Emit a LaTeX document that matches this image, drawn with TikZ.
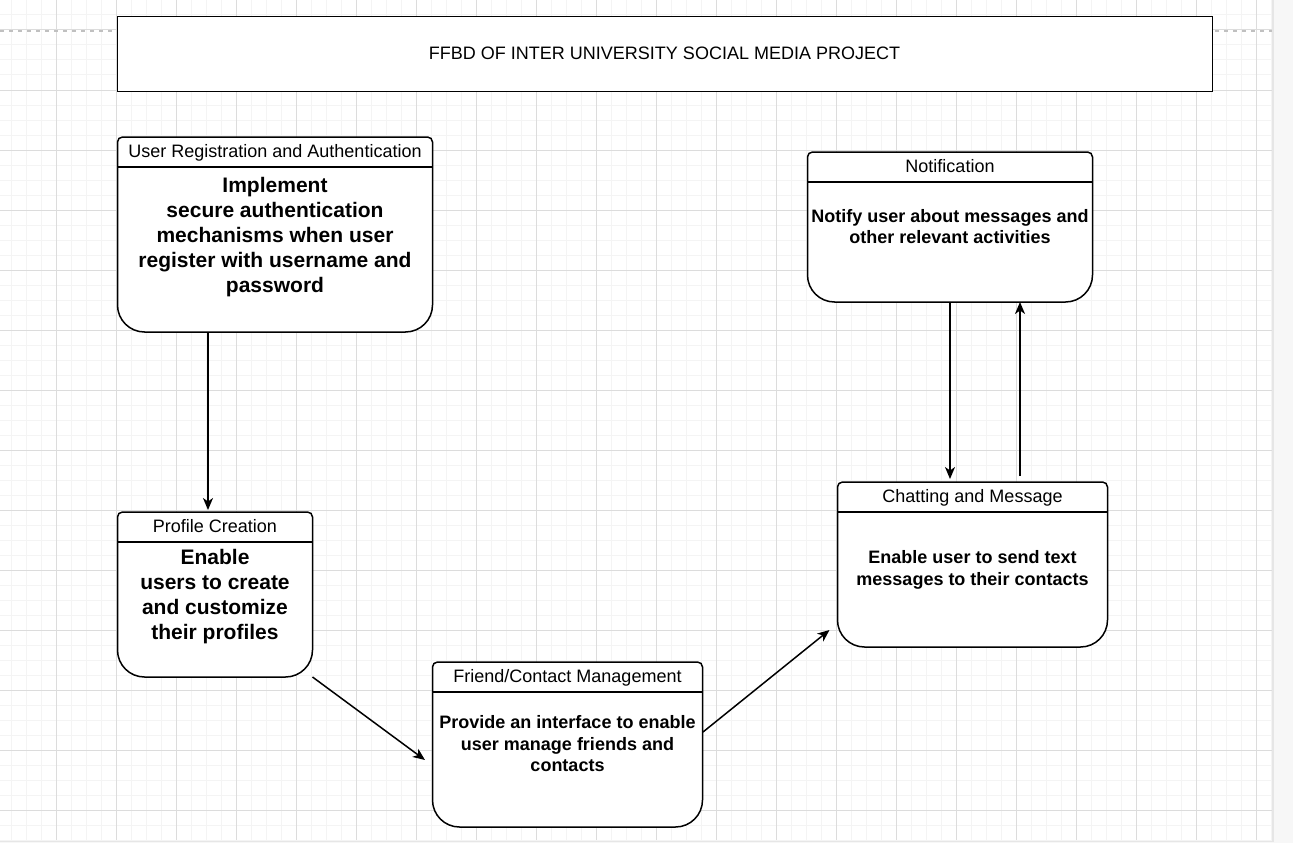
\documentclass[tikz,border=0pt]{standalone}
\usepackage{fontspec}
\setmainfont{Liberation Sans}
\usetikzlibrary{arrows.meta,calc}
\definecolor{minorgrid}{HTML}{F4F4F4}
\definecolor{majorgrid}{HTML}{DCDCDC}
\definecolor{pagebreak}{HTML}{C0C0C0}
\definecolor{outside}{HTML}{F7F7F7}
\definecolor{outsideedge}{HTML}{E6E6E6}
\newcommand\ffbdbox[1]{%
  \filldraw[boxline,rounded corners=5pt] (#1.west) -- (#1.north west) -- (#1.north east) -- (#1.east)
     [rounded corners=27pt] -- (#1.south east) -- (#1.south west) -- cycle;
  \draw[boxline] ($(#1.north west)+(0,30)$) -- ($(#1.north east)+(0,30)$);
}
\begin{document}
\begin{tikzpicture}[x=1pt,y=-1pt,
  minorline/.style={draw=minorgrid,line width=1pt},
  majorline/.style={draw=majorgrid,line width=1pt},
  boxline/.style={draw=black,line width=1.5pt,fill=white},
  fbox/.style={rectangle,inner sep=0pt,outer sep=0pt},
  headtext/.style={anchor=base,inner sep=0pt,font=\fontsize{18}{21.6}\selectfont},
  bigbody/.style={align=center,inner sep=0pt,font=\bfseries\fontsize{21}{25}\selectfont},
  smallbody/.style={align=center,inner sep=0pt,font=\bfseries\fontsize{18}{21.6}\selectfont},
  conn/.style={draw=black,line width=1.5pt,-{Stealth[length=12pt,width=10pt,inset=3.5pt]}}]
\useasboundingbox (0,0) rectangle (1293,843);
\fill[outside] (0,0) rectangle (1293,843);
\fill[white] (0,0) rectangle (1272,840);
\draw[outsideedge,line width=1.5pt] (1273,0) -- (1273,841) -- (0,841);
% grid
\foreach \i in {0,...,84} \draw[minorline] ({11.7+15*\i},0) -- ({11.7+15*\i},840);
\foreach \j in {0,...,56} \draw[minorline] (0,{15*\j}) -- (1272,{15*\j});
\foreach \i in {0,...,20} \draw[majorline] ({56.7+60*\i},0) -- ({56.7+60*\i},840);
\foreach \j in {0,...,13} \draw[majorline] (0,{30+60*\j}) -- (1272,{30+60*\j});
\draw[pagebreak,line width=1.5pt,dash pattern=on 4pt off 5pt] (0,31) -- (1272,31);
% title
\node[fbox,minimum width=1095pt,minimum height=75pt,draw=black,line width=1.5pt,fill=white] (title) at (665,54) {};
\node[headtext] (titletext) at (664.5,59.5) {FFBD OF INTER UNIVERSITY SOCIAL MEDIA PROJECT};
% boxes
\node[fbox,minimum width=315pt,minimum height=195pt] (reg) at (275,234.5) {};
\node[fbox,minimum width=285pt,minimum height=150pt] (notif) at (950,227) {};
\node[fbox,minimum width=195pt,minimum height=165pt] (prof) at (215,594.5) {};
\node[fbox,minimum width=270pt,minimum height=165pt] (friend) at (567.5,744.5) {};
\node[fbox,minimum width=270pt,minimum height=165pt] (chat) at (972.5,564.5) {};
\ffbdbox{reg}
\ffbdbox{notif}
\ffbdbox{prof}
\ffbdbox{friend}
\ffbdbox{chat}
% headers
\node[headtext] (regh) at ($(reg.north)+(0,20)$) {User Registration and Authentication};
\node[headtext] (notifh) at ($(notif.north)+(0,20)$) {Notification};
\node[headtext] (profh) at ($(prof.north)+(0,20)$) {Profile Creation};
\node[headtext] (friendh) at ($(friend.north)+(0,20)$) {Friend/Contact Management};
\node[headtext] (chath) at ($(chat.north)+(0,20)$) {Chatting and Message};
% bodies
\node[bigbody] (regb) at (275,236.7) {Implement\\secure authentication\\mechanisms when user\\register with username and\\password};
\node[bigbody] (profb) at (215,596.5) {Enable\\users to create\\and customize\\their profiles};
\node[smallbody] (notifb) at (950,226.4) {Notify user about messages and\\other relevant activities};
\node[smallbody] (chatb) at (972.5,570) {Enable user to send text\\messages to their contacts};
\node[smallbody] (friendb) at (567.5,743.7) {Provide an interface to enable\\user manage friends and\\contacts};
% connectors
\coordinate (regout) at ($(reg.south west)+(90.5,0)$);
\coordinate (profin) at ($(prof.north west)+(90.5,-2)$);
\draw[conn] (regout) -- (profin);
\coordinate (friendin) at ($(friend.west)+(-7.5,15.5)$);
\draw[conn] (prof.south east) -- (friendin);
\coordinate (friendout) at ($(friend.east)+(0.5,-12.5)$);
\coordinate (chatin) at ($(chat.south west)+(-8,-17)$);
\draw[conn] (friendout) -- (chatin);
\draw[conn,shorten >=3pt] (notif.south) -- (notif.south |- chat.north);
\coordinate (chatout) at ($(chat.north)+(47.5,-6)$);
\coordinate (notifin) at ($(notif.south)+(70,0)$);
\draw[conn] (chatout) -- (notifin);
\end{tikzpicture}
\end{document}
